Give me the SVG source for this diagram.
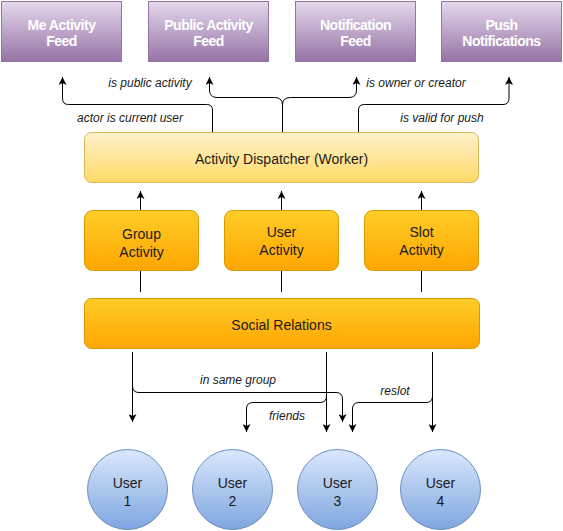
<svg xmlns="http://www.w3.org/2000/svg" width="563" height="531" viewBox="0 0 563 531">
<defs>
<linearGradient id="gPurple" x1="0" y1="0" x2="0" y2="1"><stop offset="0" stop-color="#e4d8ec"/><stop offset="1" stop-color="#9673a6"/></linearGradient>
<linearGradient id="gYellow" x1="0" y1="0" x2="0" y2="1"><stop offset="0" stop-color="#fff2cc"/><stop offset="1" stop-color="#ffd966"/></linearGradient>
<linearGradient id="gOrange" x1="0" y1="0" x2="0" y2="1"><stop offset="0" stop-color="#ffcd28"/><stop offset="1" stop-color="#ffa500"/></linearGradient>
<linearGradient id="gBlue" x1="0" y1="0" x2="0" y2="1"><stop offset="0" stop-color="#dae8fc"/><stop offset="1" stop-color="#7ea6e0"/></linearGradient>
<marker id="arr" viewBox="0 0 8 8" refX="8" refY="4" markerWidth="8" markerHeight="8" markerUnits="userSpaceOnUse" orient="auto">
<path d="M0,0 L8,4 L0,8 L2,4 z" fill="#000"/>
</marker>
</defs>
<style>
.feed{fill:url(#gPurple);stroke:#9673a6;stroke-width:1}
.disp{fill:url(#gYellow);stroke:#d6b656;stroke-width:1}
.act{fill:url(#gOrange);stroke:#d79b00;stroke-width:1}
.user{fill:url(#gBlue);stroke:#6c8ebf;stroke-width:1}
text{font-family:"Liberation Sans",Arial,sans-serif;font-size:14px;text-anchor:middle;fill:#1a1a1a}
.wt{fill:#ffffff;font-weight:bold;letter-spacing:-0.5px}
.lbl{font-size:12px;font-style:italic;fill:#1a1a1a}
.ln{fill:none;stroke:#000;stroke-width:1}
.ar{marker-end:url(#arr)}
</style>

<g id="me-feed"><rect class="feed" x="1.5" y="1.5" width="120" height="60"/><text class="wt" x="61.5" y="30">Me Activity</text><text class="wt" x="61.5" y="46">Feed</text></g>
<g id="public-feed"><rect class="feed" x="148.5" y="1.5" width="120" height="60"/><text class="wt" x="208.5" y="30">Public Activity</text><text class="wt" x="208.5" y="46">Feed</text></g>
<g id="notification-feed"><rect class="feed" x="295.5" y="1.5" width="120" height="60"/><text class="wt" x="355.5" y="30">Notification</text><text class="wt" x="355.5" y="46">Feed</text></g>
<g id="push-notifications"><rect class="feed" x="441.5" y="1.5" width="120" height="60"/><text class="wt" x="501.5" y="30">Push</text><text class="wt" x="501.5" y="46">Notifications</text></g>

<g id="dispatcher"><rect class="disp" x="84.5" y="132.5" width="394" height="50" rx="7"/><text x="281.5" y="164">Activity Dispatcher (Worker)</text></g>

<g id="group-activity"><rect class="act" x="84.5" y="210.5" width="114" height="60" rx="8"/><text x="141.5" y="239">Group</text><text x="141.5" y="257">Activity</text></g>
<g id="user-activity"><rect class="act" x="224.5" y="210.5" width="114" height="60" rx="8"/><text x="281.5" y="237">User</text><text x="281.5" y="255">Activity</text></g>
<g id="slot-activity"><rect class="act" x="364.5" y="210.5" width="114" height="60" rx="8"/><text x="421.5" y="237">Slot</text><text x="421.5" y="255">Activity</text></g>

<g id="social-relations"><rect class="act" x="84.5" y="298.5" width="395" height="50" rx="7"/><text x="281.5" y="330">Social Relations</text></g>

<g id="user1"><circle class="user" cx="127.5" cy="489.5" r="40"/><text x="127.5" y="488">User</text><text x="127.5" y="506">1</text></g>
<g id="user2"><circle class="user" cx="232.5" cy="489.5" r="40"/><text x="232.5" y="488">User</text><text x="232.5" y="506">2</text></g>
<g id="user3"><circle class="user" cx="337.5" cy="489.5" r="40"/><text x="337.5" y="488">User</text><text x="337.5" y="506">3</text></g>
<g id="user4"><circle class="user" cx="440.5" cy="489.5" r="40"/><text x="440.5" y="488">User</text><text x="440.5" y="506">4</text></g>

<g id="connectors">
<path class="ln ar" d="M212.5,132 V110 Q212.5,104.5 206.5,104.5 H68.5 Q62.5,104.5 62.5,98.5 V77"/>
<path class="ln ar" d="M282.5,132 V105 Q282.5,97.5 274.5,97.5 H217 Q209.5,97.5 209.5,90 V77"/>
<path class="ln ar" d="M282.5,105 Q282.5,97.5 290.5,97.5 H349 Q356.5,97.5 356.5,90 V77"/>
<path class="ln ar" d="M358.5,132 V110 Q358.5,104.5 364.5,104.5 H503 Q509,104.5 509,98.5 V77"/>

<path class="ln ar" d="M140.5,210 V191"/>
<path class="ln ar" d="M281.5,210 V191"/>
<path class="ln ar" d="M421.5,210 V191"/>

<path class="ln" d="M140.5,271 V292"/>
<path class="ln" d="M281.5,271 V292"/>
<path class="ln" d="M421.5,271 V292"/>

<path class="ln ar" d="M132.5,352 V422"/>
<path class="ln ar" d="M132.5,386 Q132.5,392.5 139,392.5 H336 Q342.5,392.5 342.5,399 V422"/>
<path class="ln ar" d="M326.5,352 V432"/>
<path class="ln ar" d="M326.5,396 Q326.5,402.5 320,402.5 H253 Q246.5,402.5 246.5,409 V432"/>
<path class="ln ar" d="M432.5,352 V432"/>
<path class="ln ar" d="M432.5,396 Q432.5,402.5 426,402.5 H359 Q352.5,402.5 352.5,409 V432"/>

<text class="lbl" x="150" y="87">is public activity</text>
<text class="lbl" x="416" y="87">is owner or creator</text>
<text class="lbl" x="130" y="122">actor is current user</text>
<text class="lbl" x="442" y="122">is valid for push</text>
<text class="lbl" x="238" y="384">in same group</text>
<text class="lbl" x="287" y="420">friends</text>
<text class="lbl" x="395" y="395">reslot</text>
</g>
</svg>
